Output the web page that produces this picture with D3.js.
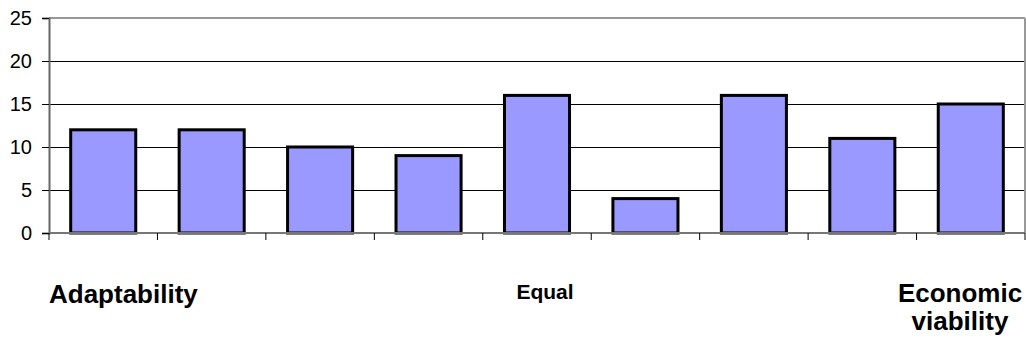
<!DOCTYPE html>
<html>
<head>
<meta charset="utf-8">
<script src="https://cdn.jsdelivr.net/npm/d3@7"></script>
<style>
html,body{margin:0;padding:0;background:#fff;}
svg{display:block;}
text{font-family:"Liberation Sans",Arial,sans-serif;fill:#000;}
</style>
</head>
<body>
<svg id="chart" width="1026" height="343"></svg>
<script>
const categories = ["c1","c2","c3","c4","c5","c6","c7","c8","c9"];
const values = [12, 12, 10, 9, 16, 4, 16, 11, 15];
const yTicks = [0, 5, 10, 15, 20, 25];
const yMax = 25;
const bottomLabels = ["Adaptability", "Equal", "Economic viability"];

(function () {
const svg = d3.select("#chart");
const pLeft = 49, pRight = 1025, pTop = 18, pBottom = 233;

const x = d3.scaleBand().domain(categories).range([pLeft, pRight]).paddingInner(0.4).paddingOuter(0.2);
const y = d3.scaleLinear().domain([0, yMax]).range([pBottom, pTop]);

// gridlines
svg.append("g").selectAll("line").data(yTicks.filter(d => d > 0 && d < yMax)).join("line")
  .attr("x1", pLeft).attr("x2", pRight)
  .attr("y1", d => Math.round(y(d)) + 0.5).attr("y2", d => Math.round(y(d)) + 0.5)
  .attr("stroke", "#000").attr("stroke-width", 1);

// frame top/right
svg.append("line").attr("x1", pLeft).attr("x2", pRight).attr("y1", y(yMax)).attr("y2", y(yMax))
  .attr("stroke", "#999").attr("stroke-width", 2);
svg.append("line").attr("x1", pRight).attr("x2", pRight).attr("y1", y(yMax)).attr("y2", y(0))
  .attr("stroke", "#999").attr("stroke-width", 2);

// bars
svg.append("g").selectAll("rect").data(values).join("rect")
  .attr("x", (d, i) => x(categories[i]))
  .attr("y", d => y(d))
  .attr("width", x.bandwidth())
  .attr("height", d => y(0) - y(d))
  .attr("fill", "#9999FF")
  .attr("stroke", "#000")
  .attr("stroke-width", 3);

// y axis
const yAxis = d3.axisLeft(y).tickValues(yTicks).tickSize(7).tickPadding(10).tickFormat(d3.format("d"));
const gy = svg.append("g").attr("transform", `translate(${pLeft},0)`).call(yAxis);
gy.select(".domain").attr("stroke", "#666").attr("stroke-width", 2);
gy.selectAll(".tick line").attr("stroke", "#000");
gy.selectAll(".tick text").attr("font-size", 20).attr("font-family", '"Liberation Sans", Arial, sans-serif').attr("fill", "#000");

// x axis with ticks at category boundaries
const step = x.step();
const boundaries = d3.range(categories.length + 1).map(i => pLeft + i * step);
svg.append("line").attr("x1", pLeft).attr("x2", pRight).attr("y1", pBottom).attr("y2", pBottom)
  .attr("stroke", "#777").attr("stroke-width", 2);
svg.append("g").selectAll("line").data(boundaries).join("line")
  .attr("x1", d => d).attr("x2", d => d).attr("y1", pBottom).attr("y2", pBottom + 7)
  .attr("stroke", "#000").attr("stroke-width", 1);

// bottom labels
svg.append("text").attr("x", 49).attr("y", 303).attr("font-size", 26).attr("font-weight", "bold")
  .text(bottomLabels[0]);
svg.append("text").attr("x", 545).attr("y", 299).attr("text-anchor", "middle").attr("font-size", 21).attr("font-weight", "bold")
  .text(bottomLabels[1]);
const ev = svg.append("text").attr("x", 960).attr("y", 302).attr("text-anchor", "middle").attr("font-size", 26).attr("font-weight", "bold");
ev.append("tspan").attr("x", 960).attr("dy", 0).text("Economic");
ev.append("tspan").attr("x", 960).attr("dy", 28).text("viability");
})();
</script>
</body>
</html>
